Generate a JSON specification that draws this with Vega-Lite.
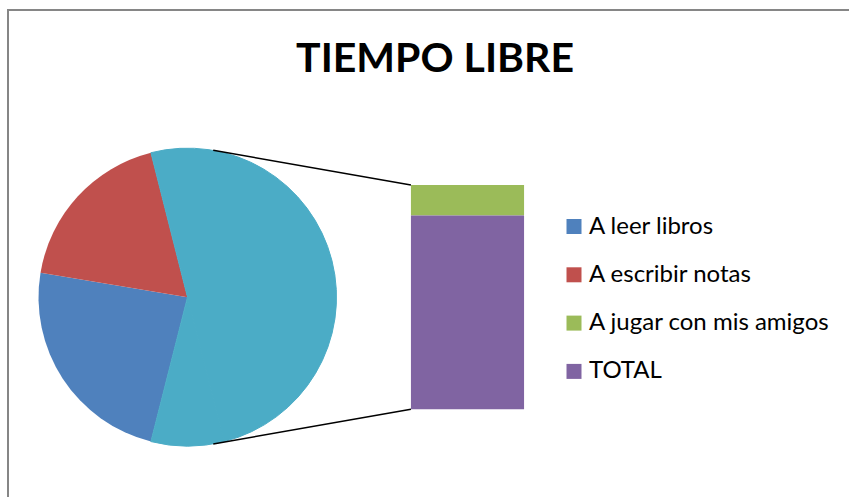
{
  "$schema": "https://vega.github.io/schema/vega-lite/v6.json",
  "width": 845,
  "height": 490,
  "autosize": {"type": "none"},
  "padding": {"left": 8, "top": 10, "right": 0, "bottom": 0},
  "background": "white",
  "config": {
    "view": {"stroke": "#868686", "strokeWidth": 2},
    "font": "Lato"
  },
  "title": {
    "text": "TIEMPO LIBRE",
    "font": "Lato",
    "fontSize": 41,
    "fontWeight": "bold",
    "color": "black",
    "anchor": "middle",
    "baseline": "alphabetic",
    "offset": -103,
    "dx": 4.5
  },
  "datasets": {
    "tiempo": [
      {"actividad": "A leer libros", "horas": 9, "grafico": "pie"},
      {"actividad": "A escribir notas", "horas": 7, "grafico": "pie"},
      {"actividad": "A jugar con mis amigos", "horas": 3, "grafico": "barra"},
      {"actividad": "TOTAL", "horas": 19, "grafico": "barra"}
    ]
  },
  "data": {"name": "tiempo"},
  "layer": [
    {
      "transform": [
        {"stack": "horas", "groupby": [], "sort": [{"field": "grafico", "order": "ascending"}, {"field": "horas", "order": "descending"}], "as": ["t0", "t1"]}
      ],
      "mark": {"type": "arc", "radius": 149, "strokeWidth": 1},
      "encoding": {
        "x": {"datum": 0, "type": "quantitative", "stack": null, "scale": {"domain": [-0.64107, 2.37679], "nice": false, "zero": false}, "axis": null},
        "y": {"datum": 11, "type": "quantitative", "scale": {"domain": [-8.897, 39.166], "nice": false, "zero": false}, "axis": null},
        "theta": {"field": "t0", "type": "quantitative", "scale": {"domain": [0, 38], "range": [-0.24802, 6.03517]}},
        "theta2": {"field": "t1"},
        "stroke": {"condition": {"test": "datum.grafico === 'barra'", "value": "#4BACC6"}, "value": null},
        "color": {
          "field": "actividad",
          "type": "nominal",
          "condition": {"test": "datum.grafico === 'barra'", "value": "#4BACC6"},
          "scale": {"domain": ["A leer libros", "A escribir notas", "A jugar con mis amigos", "TOTAL"], "range": ["#4F81BD", "#C0504D", "#9BBB59", "#8064A2"]},
          "legend": {
            "title": null,
            "orient": "none",
            "legendX": 554,
            "legendY": 204.5,
            "padding": 0,
            "symbolType": "square",
            "symbolSize": 225,
            "symbolStrokeWidth": 0,
            "labelFont": "Lato",
            "labelFontSize": 24,
            "labelColor": "black",
            "labelOffset": 3,
            "rowPadding": 24.3,
            "labelLimit": 400
          }
        }
      }
    },
    {
      "transform": [
        {"filter": "datum.grafico === 'barra'"},
        {"stack": "horas", "groupby": [], "sort": [{"field": "horas", "order": "descending"}], "as": ["y0", "y1"]}
      ],
      "mark": {"type": "rect"},
      "encoding": {
        "x": {"datum": 0.798, "type": "quantitative", "stack": null, "scale": {"domain": [-0.64107, 2.37679], "nice": false, "zero": false}, "axis": null},
        "x2": {"datum": 1.202},
        "y": {"field": "y0", "type": "quantitative", "scale": {"domain": [-8.897, 39.166], "nice": false, "zero": false}, "axis": null},
        "y2": {"field": "y1"},
        "color": {"field": "actividad", "type": "nominal"}
      }
    },
    {
      "transform": [{"filter": "datum.actividad === 'TOTAL'"}],
      "mark": {"type": "rule", "color": "black", "strokeWidth": 1.5},
      "encoding": {
        "x": {"datum": 0.0919, "type": "quantitative", "stack": null, "scale": {"domain": [-0.64107, 2.37679], "nice": false, "zero": false}, "axis": null},
        "y": {"datum": 25.4, "type": "quantitative", "scale": {"domain": [-8.897, 39.166], "nice": false, "zero": false}, "axis": null},
        "x2": {"datum": 0.798},
        "y2": {"datum": 22}
      }
    },
    {
      "transform": [{"filter": "datum.actividad === 'TOTAL'"}],
      "mark": {"type": "rule", "color": "black", "strokeWidth": 1.5},
      "encoding": {
        "x": {"datum": 0.0919, "type": "quantitative", "stack": null, "scale": {"domain": [-0.64107, 2.37679], "nice": false, "zero": false}, "axis": null},
        "y": {"datum": -3.4, "type": "quantitative", "scale": {"domain": [-8.897, 39.166], "nice": false, "zero": false}, "axis": null},
        "x2": {"datum": 0.798},
        "y2": {"datum": 0}
      }
    }
  ]
}
